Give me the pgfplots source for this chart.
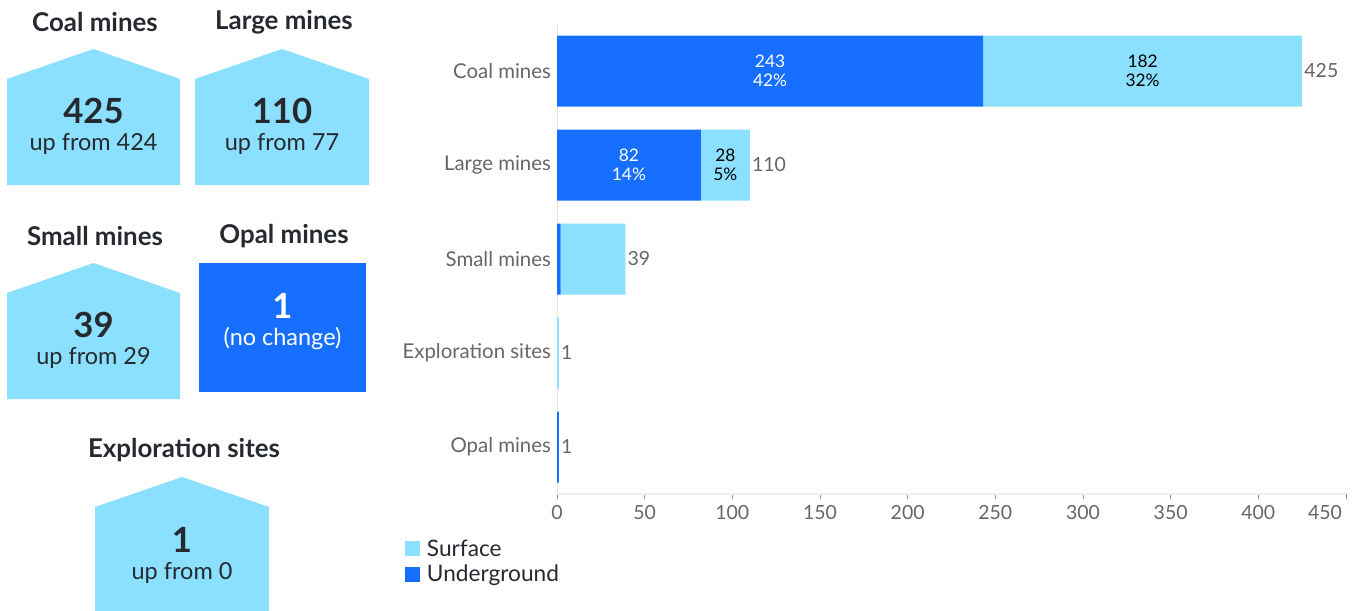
\documentclass[border=0pt]{standalone}
\usepackage{fontspec}
\setmainfont{Lato}
\usepackage{pgfplots}
\pgfplotsset{compat=1.18}
\definecolor{dblue}{HTML}{166FFF}
\definecolor{lblue}{HTML}{8CE0FF}
\definecolor{txt}{HTML}{262A30}
\definecolor{gtxt}{HTML}{666666}
\newcommand\tfont{\fontsize{19.4}{22}\selectfont\bfseries}
\newcommand\nfont{\fontsize{26}{28}\selectfont\bfseries}
\newcommand\sfont{\fontsize{17.6}{20}\selectfont}
\newcommand\cfont{\fontsize{15.3}{18}\selectfont}
\newcommand\kfont{\fontsize{14.6}{17}\selectfont}
\newcommand\lfont{\fontsize{17}{19}\selectfont}
\newcommand\bfontl{\fontsize{13}{14.6}\selectfont}
\begin{document}
\begin{tikzpicture}
\begin{scope}[x=0.75pt,y=-0.75pt]
\path[use as bounding box] (0,0) rectangle (1359,610);
% Coal
\fill[lblue] (7,185) -- (7,79) -- (93.5,49) -- (180,79) -- (180,185) -- cycle;
\node[font=\tfont, text=txt] at (95,22) {Coal mines};
\node[font=\nfont, text=txt] at (93.5,111) {425};
\node[font=\sfont, text=txt] at (93.5,144) {up from 424};
% Large
\fill[lblue] (195,185) -- (195,79) -- (282,49) -- (369,79) -- (369,185) -- cycle;
\node[font=\tfont, text=txt] at (284,22) {Large mines};
\node[font=\nfont, text=txt] at (282,111) {110};
\node[font=\sfont, text=txt] at (282,144) {up from 77};
% Small
\fill[lblue] (7,399) -- (7,293) -- (93.5,263) -- (180,293) -- (180,399) -- cycle;
\node[font=\tfont, text=txt] at (95,236) {Small mines};
\node[font=\nfont, text=txt] at (93.5,325) {39};
\node[font=\sfont, text=txt] at (93.5,358) {up from 29};
% Opal
\fill[dblue] (199,263) rectangle (366,392);
\node[font=\tfont, text=txt] at (284,236) {Opal mines};
\node[font=\nfont, text=white] at (282.5,306) {1};
\node[font=\sfont, text=white] at (282.5,339) {(no change)};
% Exploration
\fill[lblue] (95,615) -- (95,507) -- (182,477) -- (269,507) -- (269,615) -- cycle;
\node[font=\tfont, text=txt] at (184,450) {Exploration sites};
\node[font=\nfont, text=txt] at (182,540) {1};
\node[font=\sfont, text=txt] at (182,573) {up from 0};
\end{scope}
\begin{axis}[
  at={(417.75pt,-370.5pt)}, anchor=south west,
  scale only axis, width=591.75pt, height=352.5pt,
  xbar stacked, bar width=53.25pt,
  xmin=0, xmax=450, ymin=-0.5, ymax=4.5, y dir=reverse,
  ytick={0,...,4},
  yticklabels={Coal mines, Large mines, Small mines, Exploration sites, Opal mines},
  xtick={0,50,...,400},
  extra x ticks={450},
  extra x tick style={xticklabel style={xshift=-15.75pt}},
  axis x line*=bottom, axis y line*=left,
  x axis line style={draw=black!7, line width=1pt},
  y axis line style={draw=black!10, line width=0.6pt},
  tick align=outside,
  major tick length=3.5pt,
  x tick style={draw=black!45, line width=0.5pt},
  y tick style={draw=none},
  /pgf/number format/assume math mode=true,
  xticklabel style={font=\kfont, text=gtxt, yshift=-1.5pt},
  yticklabel style={font=\cfont, text=gtxt, xshift=2.5pt},
  clip=false,
  legend style={at={(0,0)}, anchor=north west, xshift=-114pt, yshift=-32pt,
    draw=none, fill=none, font=\lfont, text=txt, inner sep=0pt, row sep=1.2pt,
    /tikz/every odd column/.append style={column sep=3pt}},
  legend cell align=left, reverse legend,
  legend image code/.code={\path[#1, draw=none] (0pt,-5.6pt) rectangle (11.25pt,5.6pt);},
]
\addplot[fill=dblue, draw=none] coordinates {(243,0) (82,1) (2,2) (0,3) (1,4)};
\addplot[fill=lblue, draw=none] coordinates {(182,0) (28,1) (37,2) (1,3) (0,4)};
\legend{Underground, Surface}
\coordinate (a1) at (axis cs:121.5,0);
\coordinate (a2) at (axis cs:334,0);
\coordinate (a3) at (axis cs:41,1);
\coordinate (a4) at (axis cs:96,1);
\coordinate (t1) at (axis cs:425,0);
\coordinate (t2) at (axis cs:110,1);
\coordinate (t3) at (axis cs:39,2);
\coordinate (t4) at (axis cs:1,3);
\coordinate (t5) at (axis cs:1,4);
\end{axis}
\node[align=center, text=white, font=\bfontl] at (a1) {243\\42\%};
\node[align=center, text=black, font=\bfontl] at (a2) {182\\32\%};
\node[align=center, text=white, font=\bfontl] at (a3) {82\\14\%};
\node[align=center, text=black, font=\bfontl] at (a4) {28\\5\%};
\node[anchor=west, text=gtxt, font=\kfont, inner sep=1.5pt] at (t1) {425};
\node[anchor=west, text=gtxt, font=\kfont, inner sep=1.5pt] at (t2) {110};
\node[anchor=west, text=gtxt, font=\kfont, inner sep=1.5pt] at (t3) {39};
\node[anchor=west, text=gtxt, font=\kfont, inner sep=1.5pt] at (t4) {1};
\node[anchor=west, text=gtxt, font=\kfont, inner sep=1.5pt] at (t5) {1};
\end{tikzpicture}
\end{document}
